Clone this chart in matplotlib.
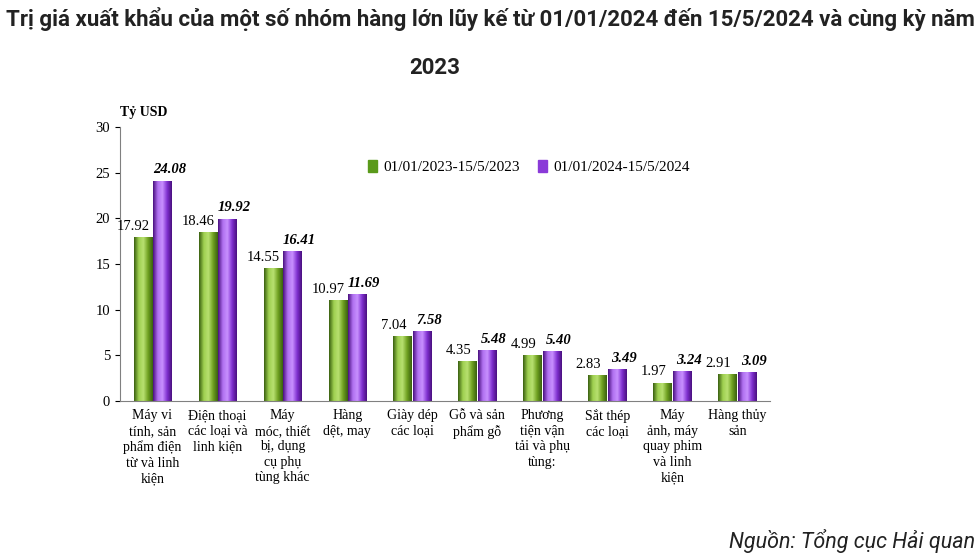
import numpy as np
import matplotlib
matplotlib.use("Agg")
import matplotlib.pyplot as plt
from matplotlib.colors import LinearSegmentedColormap
from matplotlib.patches import Patch

categories = ["Máy vi\ntính, sản\nphẩm điện\ntừ và linh\nkiện",
              "Điện thoại\ncác loại và\nlinh kiện",
              "Máy\nmóc, thiết\nbị, dụng\ncụ phụ\ntùng khác",
              "Hàng\ndệt, may",
              "Giày dép\ncác loại",
              "Gỗ và sản\nphẩm gỗ",
              "Phương\ntiện vận\ntải và phụ\ntùng:",
              "Sắt thép\ncác loại",
              "Máy\nảnh, máy\nquay phim\nvà linh\nkiện",
              "Hàng thủy\nsản"]
val_2023 = [17.92, 18.46, 14.55, 10.97, 7.04, 4.35, 4.99, 2.83, 1.97, 2.91]
val_2024 = [24.08, 19.92, 16.41, 11.69, 7.58, 5.48, 5.40, 3.49, 3.24, 3.09]
legend_labels = ["01/01/2023-15/5/2023", "01/01/2024-15/5/2024"]

green_cm = LinearSegmentedColormap.from_list("g", ["#3a6010", "#9fd050", "#b8e070", "#6fa020", "#3a6010"])
purple_cm = LinearSegmentedColormap.from_list("p", ["#4a1080", "#b070f0", "#c890ff", "#8030d0", "#4a1080"])

fig = plt.figure(figsize=(9.8, 5.55), dpi=100)
ax = fig.add_axes([0.1224, 0.2775, 0.663, 0.4937])

x = np.arange(len(categories))
w = 0.28
grad = np.linspace(0, 1, 64).reshape(1, -1)
for i in range(len(categories)):
    for off, v, cm in [(-w / 2 - 0.01, val_2023[i], green_cm), (w / 2 + 0.01, val_2024[i], purple_cm)]:
        ax.imshow(grad, extent=[x[i] + off - w / 2, x[i] + off + w / 2, 0, v],
                  aspect="auto", cmap=cm, zorder=2)
    ax.text(x[i] - w / 2 - 0.15, val_2023[i] + 0.5, f"{val_2023[i]:.2f}", ha="center", va="bottom",
            family="Liberation Serif", fontsize=10.5)
    ax.text(x[i] + w / 2 + 0.12, val_2024[i] + 0.5, f"{val_2024[i]:.2f}", ha="center", va="bottom",
            family="Liberation Serif", fontsize=10.5, weight="bold", style="italic")

ax.set_xlim(-0.5, len(categories) - 0.5)
ax.set_ylim(0, 30)
ax.set_yticks(range(0, 31, 5))
ax.set_xticks(x)
ax.set_xticklabels(categories, family="Liberation Serif", fontsize=10, va="top", linespacing=1.25)
ax.tick_params(axis="x", length=0, pad=6)
for t in ax.get_yticklabels():
    t.set_family("Liberation Serif")
    t.set_fontsize(10.5)
for s in ["top", "right"]:
    ax.spines[s].set_visible(False)
for s in ["left", "bottom"]:
    ax.spines[s].set_color("#808080")
ax.text(-0.5, 31.2, "Tỷ USD", family="Liberation Serif", fontsize=10, weight="bold", ha="left")

ax.legend(handles=[Patch(color="#5a9a1a"), Patch(color="#8a3ad8")], labels=legend_labels,
          loc="upper left", bbox_to_anchor=(0.36, 0.93), ncol=2, frameon=False,
          prop={"family": "Liberation Serif", "size": 11}, handlelength=0.6, handleheight=0.8,
          columnspacing=1.2, handletextpad=0.4)

fig.text(0.5, 0.965, "Trị giá xuất khẩu của một số nhóm hàng lớn lũy kế từ 01/01/2024 đến 15/5/2024 và cùng kỳ năm",
         ha="center", va="center", family="Roboto", weight="bold", fontsize=16, color="#222222")
fig.text(0.444, 0.878, "2023", ha="center", va="center", family="Roboto", weight="bold",
         fontsize=16, color="#222222")
fig.text(0.995, 0.025, "Nguồn: Tổng cục Hải quan", ha="right", va="center", family="Roboto",
         style="italic", fontsize=15.5, color="#222222")

fig.savefig("out.png", dpi=100)
